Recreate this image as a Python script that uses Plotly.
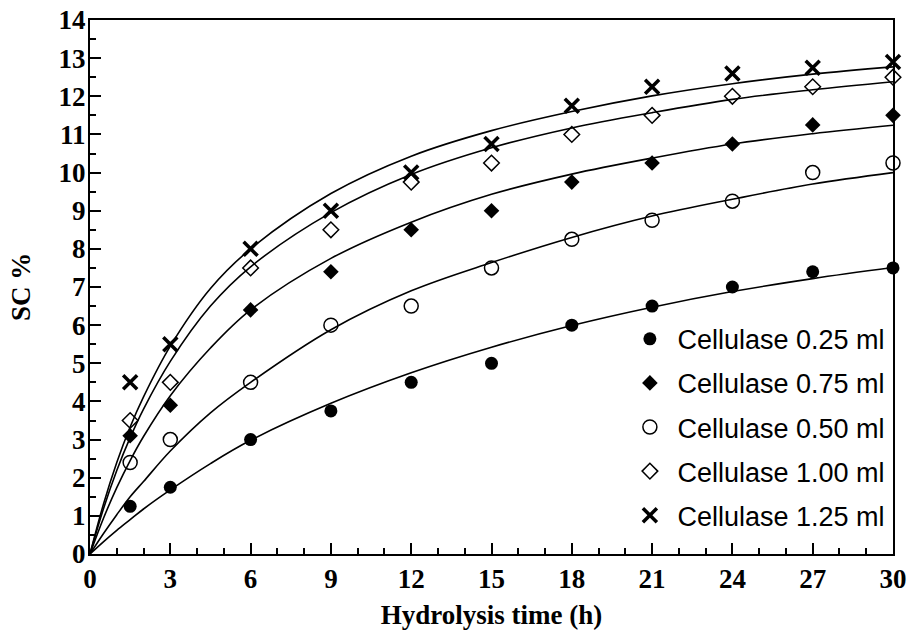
import plotly.graph_objects as go

# Measured data points (hydrolysis time in h, SC %)
t_obs = [1.5, 3, 6, 9, 12, 15, 18, 21, 24, 27, 30]
sc_025 = [1.25, 1.75, 3.0, 3.75, 4.5, 5.0, 6.0, 6.5, 7.0, 7.4, 7.5]
sc_075 = [3.1, 3.9, 6.4, 7.4, 8.5, 9.0, 9.75, 10.25, 10.75, 11.25, 11.5]
sc_050 = [2.4, 3.0, 4.5, 6.0, 6.5, 7.5, 8.25, 8.75, 9.25, 10.0, 10.25]
sc_100 = [3.5, 4.5, 7.5, 8.5, 9.75, 10.25, 11.0, 11.5, 12.0, 12.25, 12.5]
sc_125 = [4.5, 5.5, 8.0, 9.0, 10.0, 10.75, 11.75, 12.25, 12.6, 12.75, 12.9]

# Fitted curves
t_fit = [0, 0.5, 1, 1.5, 2, 3, 4.5, 6, 9, 12, 15, 18, 21, 24, 27, 30]
fit_025 = [0, 0.32, 0.62, 0.9, 1.18, 1.68, 2.37, 2.98, 3.95, 4.75, 5.42, 5.99, 6.47, 6.88, 7.22, 7.51]
fit_050 = [0, 0.53, 1.03, 1.5, 1.9, 2.7, 3.7, 4.5, 5.88, 6.9, 7.64, 8.3, 8.86, 9.3, 9.7, 10.0]
fit_075 = [0, 0.93, 1.74, 2.45, 3.08, 4.15, 5.4, 6.4, 7.75, 8.7, 9.43, 9.96, 10.38, 10.75, 11.02, 11.24]
fit_100 = [0, 1.18, 2.19, 3.05, 3.8, 5.05, 6.5, 7.53, 8.95, 9.95, 10.65, 11.17, 11.57, 11.92, 12.17, 12.38]
fit_125 = [0, 1.3, 2.4, 3.33, 4.12, 5.45, 6.96, 8.0, 9.45, 10.43, 11.1, 11.6, 12.01, 12.33, 12.58, 12.77]

labels = ["Cellulase 0.25 ml", "Cellulase 0.75 ml", "Cellulase 0.50 ml",
          "Cellulase 1.00 ml", "Cellulase 1.25 ml"]

fig = go.Figure()

for fy in [fit_025, fit_050, fit_075, fit_100, fit_125]:
    fig.add_trace(go.Scatter(x=t_fit, y=fy, mode="lines",
                             line=dict(color="black", width=1.6, shape="spline", smoothing=1.0),
                             showlegend=False, hoverinfo="skip", cliponaxis=False))

styles = [
    dict(symbol="circle", size=13, color="black", line=dict(color="black", width=0)),
    dict(symbol="diamond", size=12, color="black", line=dict(color="black", width=0)),
    dict(symbol="circle-open", size=14, color="black", line=dict(color="black", width=1.5)),
    dict(symbol="diamond-open", size=12, color="black", line=dict(color="black", width=1.5)),
    dict(symbol="x-thin-open", size=14, color="black", line=dict(color="black", width=3.5)),
]
series = [sc_025, sc_075, sc_050, sc_100, sc_125]
for i, (lab, ys, st) in enumerate(zip(labels, series, styles)):
    fig.add_trace(go.Scatter(x=t_obs, y=ys, mode="markers", name=lab, marker=st,
                             legendgroup=lab, legendrank=i + 1, cliponaxis=False))

serif = "Liberation Serif, Times New Roman, serif"
tick_font = dict(family=serif, size=27, color="black")
title_font = dict(family=serif, size=27, color="black")

fig.update_layout(
    width=907, height=631,
    margin=dict(l=90, r=14, t=20, b=77),
    paper_bgcolor="white", plot_bgcolor="white",
    legend=dict(x=0.663, y=0.448, xanchor="left", yanchor="top",
                font=dict(family="Liberation Sans, Arial, sans-serif", size=27, color="black"),
                bgcolor="rgba(0,0,0,0)", tracegroupgap=6, itemsizing="trace", itemwidth=45),
)
fig.update_xaxes(range=[0, 30], tickmode="linear", tick0=0, dtick=3,
                 ticks="inside", ticklen=11, tickwidth=2, tickcolor="black",
                 minor=dict(dtick=1, ticks="inside", ticklen=6, tickwidth=2, tickcolor="black"),
                 showline=True, linewidth=2, linecolor="black", mirror=True,
                 showgrid=False, zeroline=False, automargin=False,
                 tickfont=tick_font, ticklabeloverflow="allow",
                 title=dict(text="<b>Hydrolysis time (h)</b>", font=title_font, standoff=12))
fig.update_yaxes(range=[0, 14], tickmode="linear", tick0=0, dtick=1,
                 ticks="inside", ticklen=11, tickwidth=2, tickcolor="black",
                 minor=dict(dtick=0.5, ticks="inside", ticklen=6, tickwidth=2, tickcolor="black"),
                 showline=True, linewidth=2, linecolor="black", mirror=True,
                 showgrid=False, zeroline=False, automargin=False,
                 tickfont=tick_font, ticklabeloverflow="allow", ticklabelstandoff=-3,
                 title=dict(text="<b>SC %</b>", font=title_font, standoff=20))
fig.update_xaxes(tickprefix="<b>", ticksuffix="</b>")
fig.update_yaxes(tickprefix="<b>", ticksuffix="</b>")

# remove the default page margin so the 907x631 figure fills the window exactly
fig.write_html("out.html", config={"displayModeBar": False},
               post_script="document.body.style.margin='0';document.body.style.overflow='hidden';")
